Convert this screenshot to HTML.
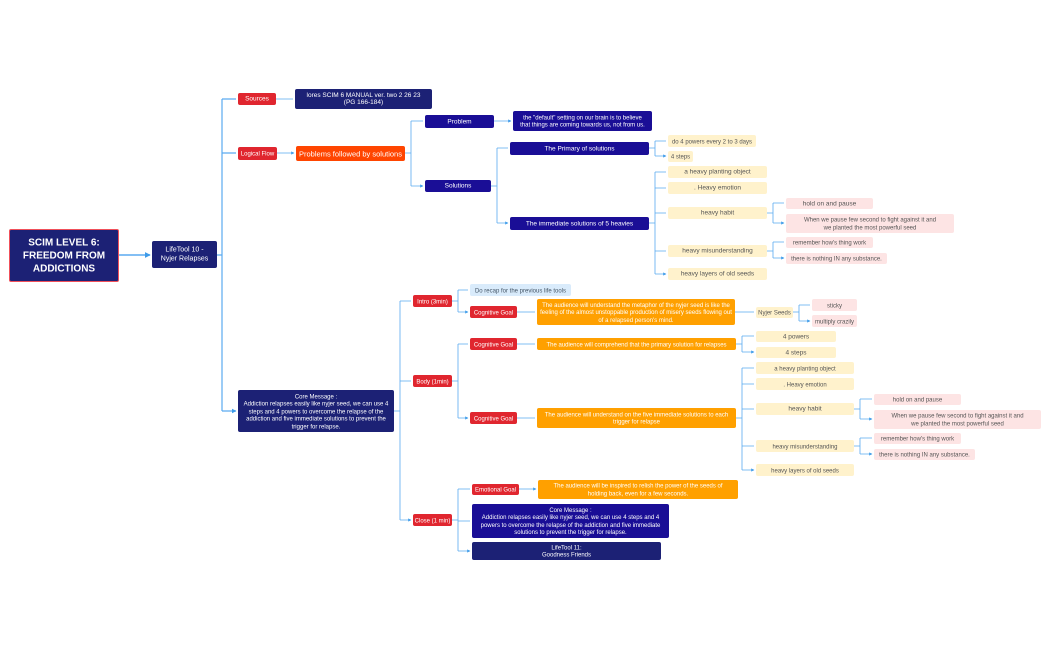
<!DOCTYPE html>
<html><head><meta charset="utf-8"><style>
body{margin:0;width:1050px;height:650px;background:#fff;position:relative;overflow:hidden;font-family:"Liberation Sans",sans-serif}
.n{position:absolute;box-sizing:border-box;text-align:center;border-radius:2px;font-size:6.5px;line-height:7.5px;color:#fff}
.n span{position:absolute;left:0;right:0;top:50%;transform:translateY(-50%);display:block}
.n[style*="font-size:6px"] span{top:calc(50% + 1.5px)}
.nw span{white-space:nowrap}
.nv{background:#1c2175}
.bl{background:#1a0e96}
.rd{background:#e0262f}
.or{background:#ffa000}
.ye{background:#fff2cc;color:#555}
.pk{background:#fde4e4;color:#555}
.lb{background:#d9ebfb;color:#456}
svg{position:absolute;left:0;top:0}
</style></head><body>
<svg width="1050" height="650">
<defs><marker id="a" markerWidth="4" markerHeight="4" refX="3.5" refY="2" orient="auto"><path d="M0,0 L4,2 L0,4z" fill="#3d9be9"/></marker></defs>
<g fill="none" stroke="#5aaaf0" stroke-width="0.8">
<path d="M119 255H150" stroke-width="1.5" marker-end="url(#a)"/>
<path d="M217 255H222M222 99V411" stroke-width="1.2"/>
<path d="M222 99H236M222 153H236M222 411H236" stroke-width="1.2" marker-end="url(#a)"/>
<path d="M276 99H293M277 153H294" marker-end="url(#a)"/>
<path d="M405 153H411M411 121V186"/><path d="M411 121H423M411 186H423" marker-end="url(#a)"/>
<path d="M494 121H511" marker-end="url(#a)"/>
<path d="M491 186H497M497 148V223"/><path d="M497 148H508M497 223H508" marker-end="url(#a)"/>
<path d="M649 148H655M655 141V156"/><path d="M655 141H666M655 156H666" marker-end="url(#a)"/>
<path d="M649 223H655M655 172V274"/><path d="M655 172H666M655 188H666M655 213H666M655 251H666M655 274H666" marker-end="url(#a)"/>
<path d="M767 213H773M773 203V223"/><path d="M773 203H784M773 223H784" marker-end="url(#a)"/>
<path d="M767 251H773M773 242V258"/><path d="M773 242H784M773 258H784" marker-end="url(#a)"/>
<path d="M394 411H400M400 301V520"/><path d="M400 301H411M400 381H411M400 520H411" marker-end="url(#a)"/>
<path d="M452 301H458M458 290V312"/><path d="M458 290H468M458 312H468" marker-end="url(#a)"/>
<path d="M517 312H535M735 312H754M517 344H535M517 418H535M519 489H536" marker-end="url(#a)"/>
<path d="M793 312H799M799 305V321"/><path d="M799 305H810M799 321H810" marker-end="url(#a)"/>
<path d="M452 381H458M458 344V418"/><path d="M458 344H468M458 418H468" marker-end="url(#a)"/>
<path d="M736 344H742M742 336V352"/><path d="M742 336H754M742 352H754" marker-end="url(#a)"/>
<path d="M736 418H742M742 368V470"/><path d="M742 368H754M742 384H754M742 409H754M742 446H754M742 470H754" marker-end="url(#a)"/>
<path d="M854 409H860M860 399V419"/><path d="M860 399H872M860 419H872" marker-end="url(#a)"/>
<path d="M854 446H860M860 438V454"/><path d="M860 438H872M860 454H872" marker-end="url(#a)"/>
<path d="M452 520H458M458 489V551"/><path d="M458 489H470M458 521H470M458 551H470" marker-end="url(#a)"/>
</g></svg>

<div class="n nv" style="left:9px;top:229px;width:110px;height:53px;border:1.5px solid #f0505a;font-size:10px;line-height:13px;font-weight:bold"><span>SCIM LEVEL 6:<br>FREEDOM FROM<br>ADDICTIONS</span></div>
<div class="n nv" style="left:152px;top:241px;width:65px;height:27px;font-size:7px;line-height:9.5px"><span>LifeTool 10 -<br>Nyjer Relapses</span></div>
<div class="n rd nw" style="left:238px;top:93px;width:38px;height:12px"><span>Sources</span></div>
<div class="n nv nw" style="left:295px;top:89px;width:137px;height:20px;line-height:7px"><span>lores SCIM 6 MANUAL ver. two 2 26 23<br>(PG 166-184)</span></div>
<div class="n rd nw" style="left:238px;top:147px;width:39px;height:13px;font-size:6px"><span>Logical Flow</span></div>
<div class="n nw" style="left:296px;top:146px;width:109px;height:15px;background:#ff4500;font-size:7.5px"><span>Problems followed by solutions</span></div>
<div class="n bl nw" style="left:425px;top:115px;width:69px;height:13px"><span>Problem</span></div>
<div class="n bl nw" style="left:425px;top:180px;width:66px;height:12px"><span>Solutions</span></div>
<div class="n bl nw" style="left:513px;top:111px;width:139px;height:20px;font-size:6px"><span>the "default" setting on our brain is to believe<br>that things are coming towards us, not from us.</span></div>
<div class="n bl nw" style="left:510px;top:142px;width:139px;height:13px"><span>The Primary of solutions</span></div>
<div class="n bl nw" style="left:510px;top:217px;width:139px;height:13px"><span>The immediate solutions of 5 heavies</span></div>
<div class="n ye nw" style="left:668px;top:135px;width:88px;height:12px;font-size:6px"><span>do 4 powers every 2 to 3 days</span></div>
<div class="n ye nw" style="left:668px;top:151px;width:25px;height:11px;font-size:6px"><span>4 steps</span></div>
<div class="n ye nw" style="left:668px;top:166px;width:99px;height:12px"><span>a heavy planting object</span></div>
<div class="n ye nw" style="left:668px;top:182px;width:99px;height:12px"><span>. Heavy emotion</span></div>
<div class="n ye nw" style="left:668px;top:207px;width:99px;height:12px"><span>heavy habit</span></div>
<div class="n pk nw" style="left:786px;top:198px;width:87px;height:11px"><span>hold on and pause</span></div>
<div class="n pk nw" style="left:786px;top:214px;width:168px;height:19px;font-size:6px"><span>When we pause few second to fight against it and<br>we planted the most powerful seed</span></div>
<div class="n ye nw" style="left:668px;top:245px;width:99px;height:12px"><span>heavy misunderstanding</span></div>
<div class="n pk nw" style="left:786px;top:237px;width:87px;height:11px;font-size:6px"><span>remember how's thing work</span></div>
<div class="n pk nw" style="left:786px;top:253px;width:101px;height:11px;font-size:6px"><span>there is nothing IN any substance.</span></div>
<div class="n ye nw" style="left:668px;top:268px;width:99px;height:12px"><span>heavy layers of old seeds</span></div>

<div class="n nv" style="left:238px;top:390px;width:156px;height:42px;font-size:6px;line-height:7.5px"><span>Core Message :<br>Addiction relapses easily like nyjer seed, we can use 4 steps and 4 powers to overcome the relapse of the addiction and five immediate solutions to prevent the trigger for relapse.</span></div>
<div class="n rd nw" style="left:413px;top:295px;width:39px;height:12px;font-size:6px"><span>Intro (3min)</span></div>
<div class="n lb nw" style="left:470px;top:284px;width:101px;height:12px;font-size:6px"><span>Do recap for the previous life tools</span></div>
<div class="n rd nw" style="left:470px;top:306px;width:47px;height:12px;font-size:6px"><span>Cognitive Goal</span></div>
<div class="n or" style="left:537px;top:299px;width:198px;height:26px;font-size:6px"><span>The audience will understand the metaphor of the nyjer seed is like the feeling of the almost unstoppable production of misery seeds flowing out of a relapsed person's mind.</span></div>
<div class="n ye nw" style="left:756px;top:307px;width:37px;height:11px;font-size:6px"><span>Nyjer Seeds</span></div>
<div class="n pk nw" style="left:812px;top:299px;width:45px;height:12px;font-size:6px"><span>sticky</span></div>
<div class="n pk nw" style="left:812px;top:315px;width:45px;height:12px;font-size:6px"><span>multiply crazily</span></div>
<div class="n rd nw" style="left:413px;top:375px;width:39px;height:12px;font-size:6px"><span>Body (1min)</span></div>
<div class="n rd nw" style="left:470px;top:338px;width:47px;height:12px;font-size:6px"><span>Cognitive Goal</span></div>
<div class="n or nw" style="left:537px;top:338px;width:199px;height:12px;font-size:6px"><span>The audience will comprehend that the primary solution for relapses</span></div>
<div class="n ye nw" style="left:756px;top:331px;width:80px;height:11px"><span>4 powers</span></div>
<div class="n ye nw" style="left:756px;top:347px;width:80px;height:11px"><span>4 steps</span></div>
<div class="n rd nw" style="left:470px;top:412px;width:47px;height:12px;font-size:6px"><span>Cognitive Goal</span></div>
<div class="n or nw" style="left:537px;top:408px;width:199px;height:20px;font-size:6px"><span>The audience will understand on the five immediate solutions to each<br>trigger for relapse</span></div>
<div class="n ye nw" style="left:756px;top:362px;width:98px;height:12px;font-size:6px"><span>a heavy planting object</span></div>
<div class="n ye nw" style="left:756px;top:378px;width:98px;height:12px;font-size:6px"><span>. Heavy emotion</span></div>
<div class="n ye nw" style="left:756px;top:403px;width:98px;height:12px"><span>heavy habit</span></div>
<div class="n pk nw" style="left:874px;top:394px;width:87px;height:11px;font-size:6px"><span>hold on and pause</span></div>
<div class="n pk nw" style="left:874px;top:410px;width:167px;height:19px;font-size:6px"><span>When we pause few second to fight against it and<br>we planted the most powerful seed</span></div>
<div class="n ye nw" style="left:756px;top:440px;width:98px;height:12px;font-size:6px"><span>heavy misunderstanding</span></div>
<div class="n pk nw" style="left:874px;top:433px;width:87px;height:11px;font-size:6px"><span>remember how's thing work</span></div>
<div class="n pk nw" style="left:874px;top:449px;width:101px;height:11px;font-size:6px"><span>there is nothing IN any substance.</span></div>
<div class="n ye nw" style="left:756px;top:464px;width:98px;height:12px;font-size:6px"><span>heavy layers of old seeds</span></div>
<div class="n rd nw" style="left:413px;top:514px;width:39px;height:12px;font-size:6px"><span>Close (1 min)</span></div>
<div class="n rd nw" style="left:472px;top:484px;width:47px;height:11px;font-size:6px"><span>Emotional Goal</span></div>
<div class="n or nw" style="left:538px;top:480px;width:200px;height:19px;font-size:6px"><span>The audience will be inspired to relish the power of the seeds of<br>holding back, even for a few seconds.</span></div>
<div class="n bl" style="left:472px;top:504px;width:197px;height:34px;font-size:6px"><span>Core Message :<br>Addiction relapses easily like nyjer seed, we can use 4 steps and 4 powers to overcome the relapse of the addiction and five immediate solutions to prevent the trigger for relapse.</span></div>
<div class="n nv nw" style="left:472px;top:542px;width:189px;height:18px;font-size:6px"><span>LifeTool 11:<br>Goodness Friends</span></div>
</body></html>
